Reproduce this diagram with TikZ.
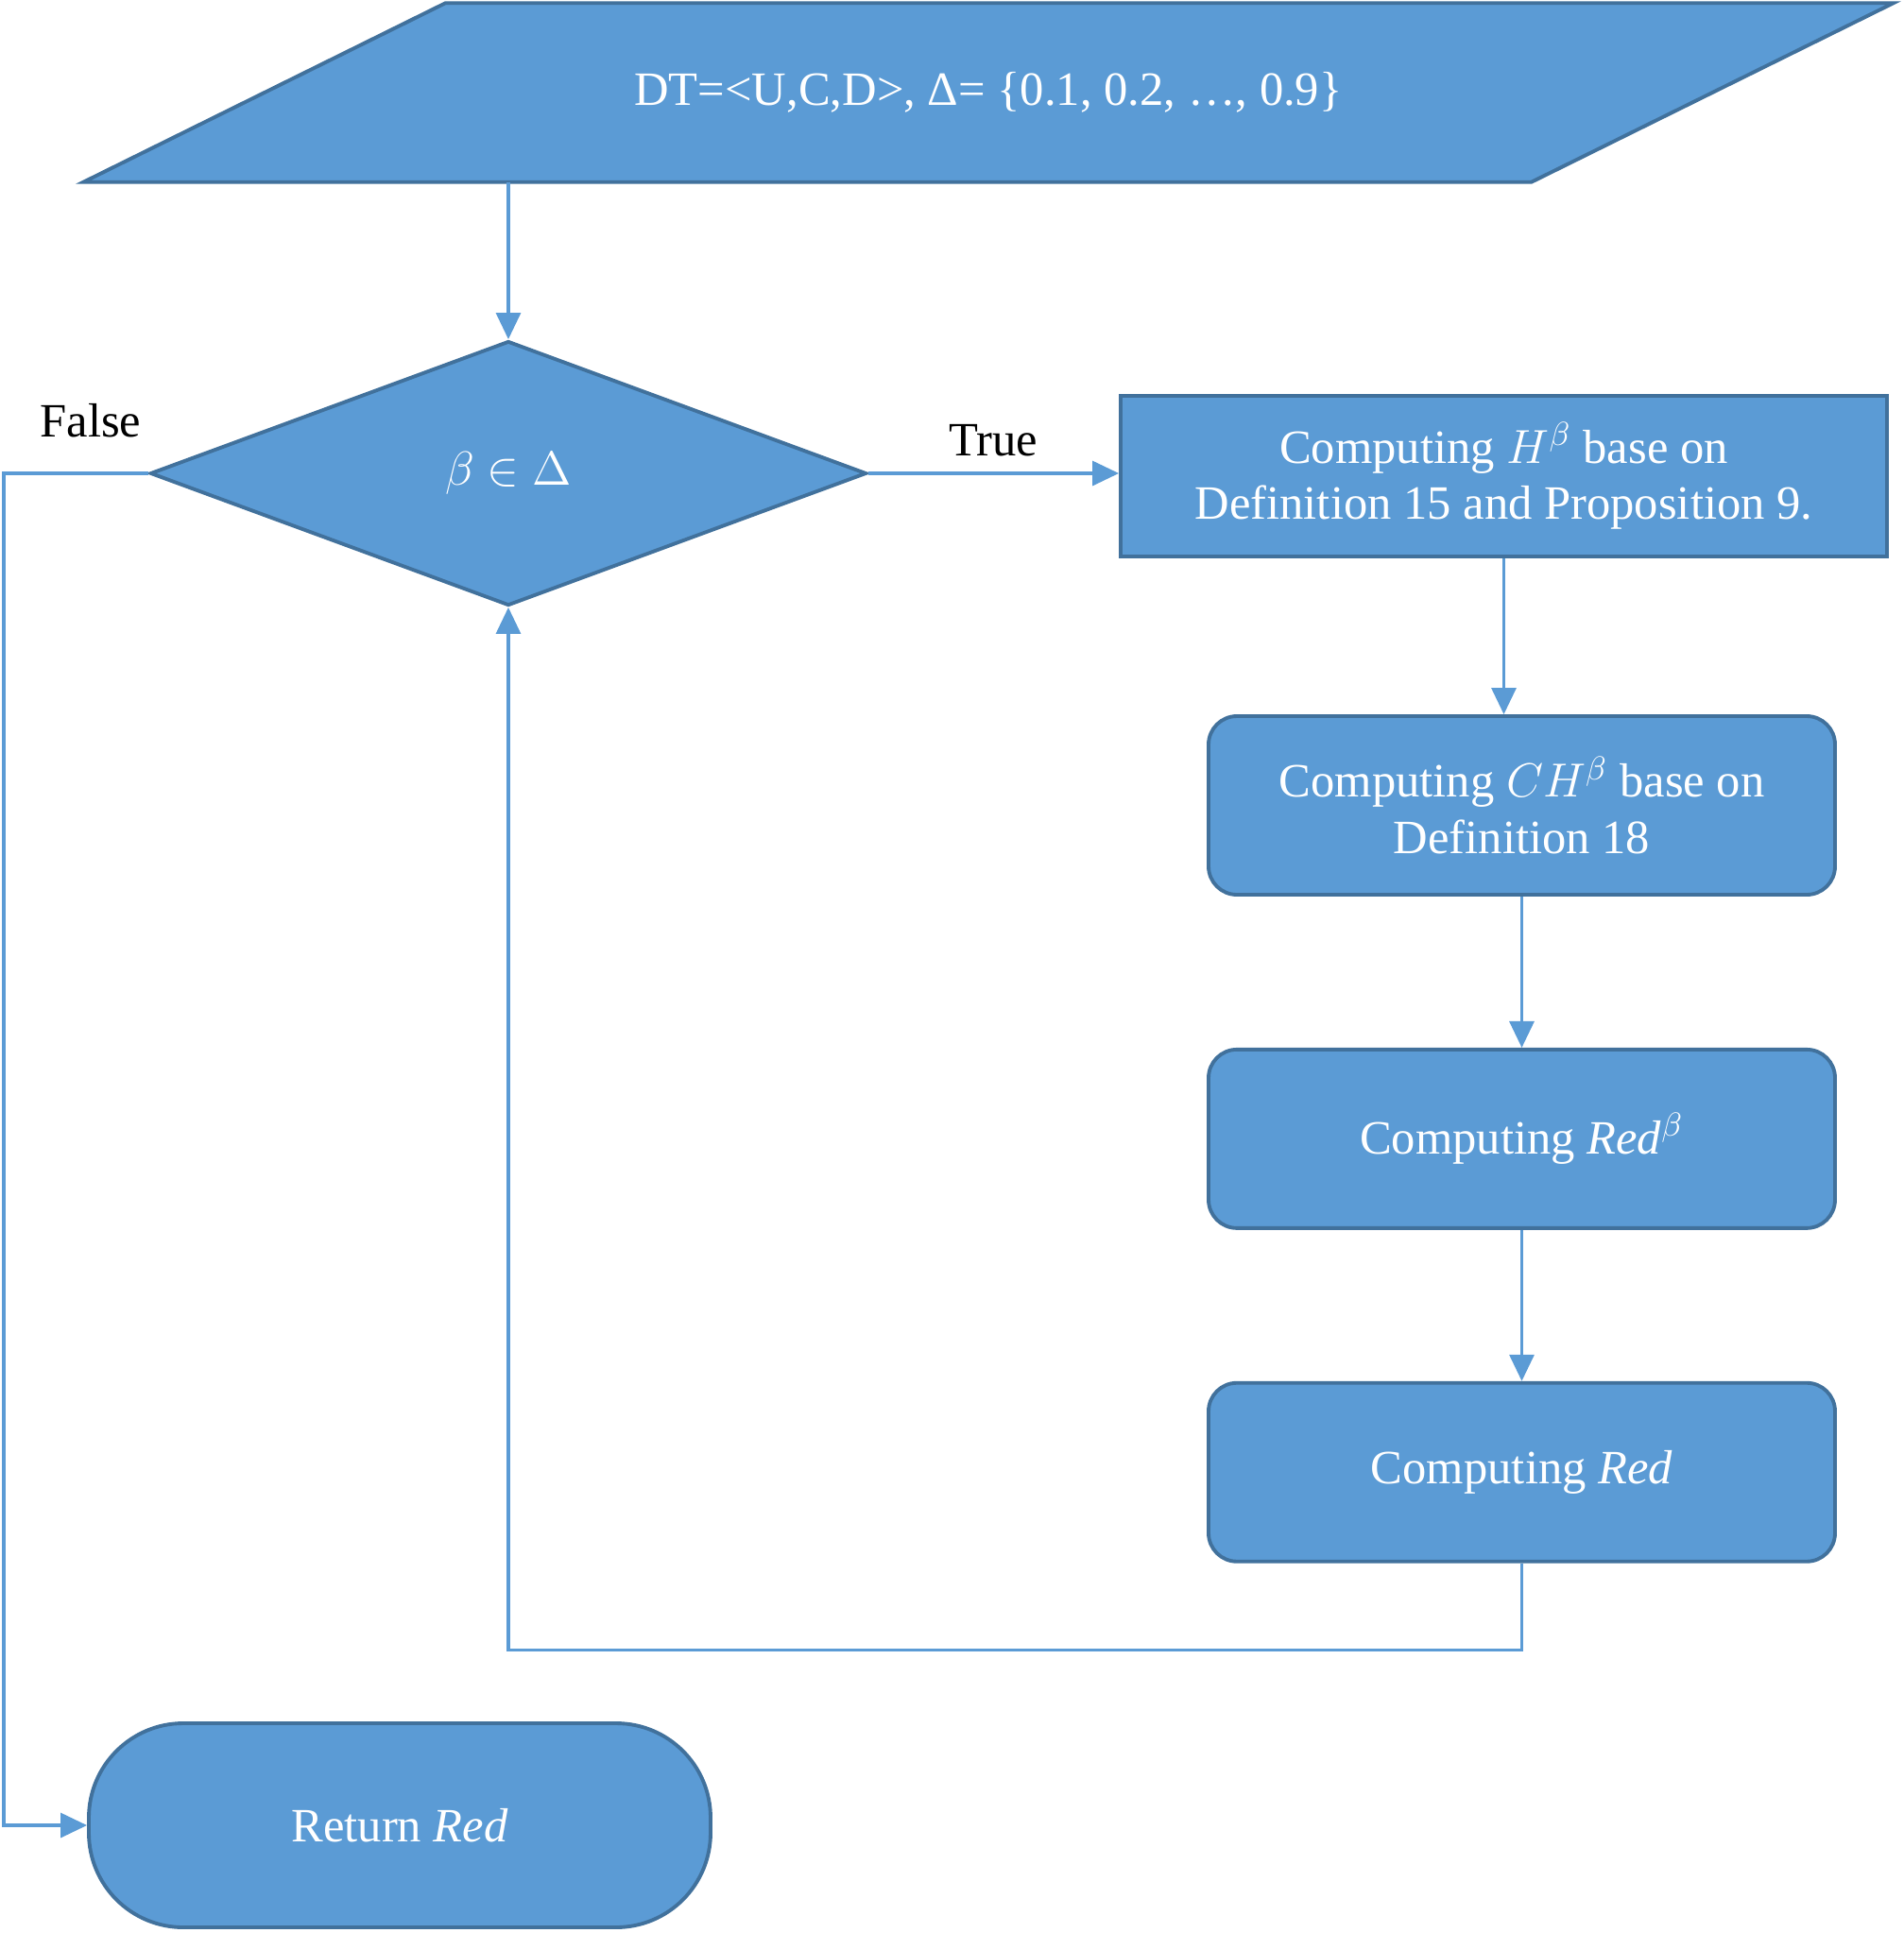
\documentclass[tikz,border=0pt]{standalone}
\usepackage{fontspec}
\setmainfont{Liberation Serif}
\usetikzlibrary{shapes.geometric,arrows.meta,positioning,backgrounds}

\definecolor{boxfill}{HTML}{5B9BD5}
\definecolor{boxline}{HTML}{41719C}

\tikzset{
  block/.style={draw=boxline, fill=boxfill, line width=1.1pt, text=white,
    align=center, font=\fontsize{14.4}{17}\selectfont},
  iobox/.style={rectangle, text=white, align=center, font=\fontsize{14.4}{17}\selectfont,
    minimum width=15.31cm, minimum height=1.88cm},
  ioshape/.style={draw=boxline, fill=boxfill, line width=1.1pt},
  decision/.style={block, diamond, inner sep=0pt,
    minimum width=7.58cm, minimum height=2.80cm},
  proc/.style={block, rectangle, minimum width=8.11cm, minimum height=1.70cm},
  rproc/.style={block, rectangle, rounded corners=0.3cm,
    minimum width=6.63cm, minimum height=1.89cm},
  term/.style={block, rectangle, rounded corners=1.0cm,
    minimum width=6.58cm, minimum height=2.16cm},
  flow/.style={draw=boxfill, line width=0.9pt,
    -{Triangle[length=0.28cm,width=0.26cm]}},
  lbl/.style={font=\fontsize{14.4}{17}\selectfont, text=black}
}

\begin{document}
\begin{tikzpicture}[node distance=1.6cm]
    \useasboundingbox (0,0) rectangle (20.14,-20.46);

    \node[iobox] (input) at (10.46,-0.98) {DT=<U,C,D>, Δ= \{0.1, 0.2, …, 0.9\}};
    \begin{scope}[on background layer]
        \draw[ioshape] ([xshift=-1.915cm]input.south west) -- ([xshift=1.915cm]input.north west)
            -- ([xshift=1.915cm]input.north east) -- ([xshift=-1.915cm]input.south east) -- cycle;
    \end{scope}
    \node[decision] (dec) at (5.38,-5.01) {$\beta\in\Delta$};
    \node[proc] (hb) at (15.915,-5.04) {Computing $H^{\beta}$ base on\\Definition 15 and Proposition 9.};
    \node[rproc] (chb) at (16.105,-8.525) {Computing $CH^{\beta}$ base on\\Definition 18};
    \node[rproc, below=of chb] (redb) {Computing \textit{Red}$^{\beta}$};
    \node[rproc, below=of redb] (red) {Computing \textit{Red}};
    \node[term] (ret) at (4.23,-19.32) {Return \textit{Red}};

    \draw[flow] (dec.north |- input.south) -- (dec.north);
    \draw[flow] (dec.east) -- (dec.east -| hb.west)
        node[lbl, midway, above=0.05cm] {True};
    \draw[flow] (hb.south) -- (hb.south |- chb.north);
    \draw[flow] (chb) -- (redb);
    \draw[flow] (redb) -- (red);
    \draw[flow] (red.south) -- ++(0,-0.92) -| (dec.south);
    \draw[flow] (dec.west) -- ++(-1.53,0)
        node[lbl, pos=0.4, above=0.25cm] {False} |- (ret.west);
\end{tikzpicture}
\end{document}
